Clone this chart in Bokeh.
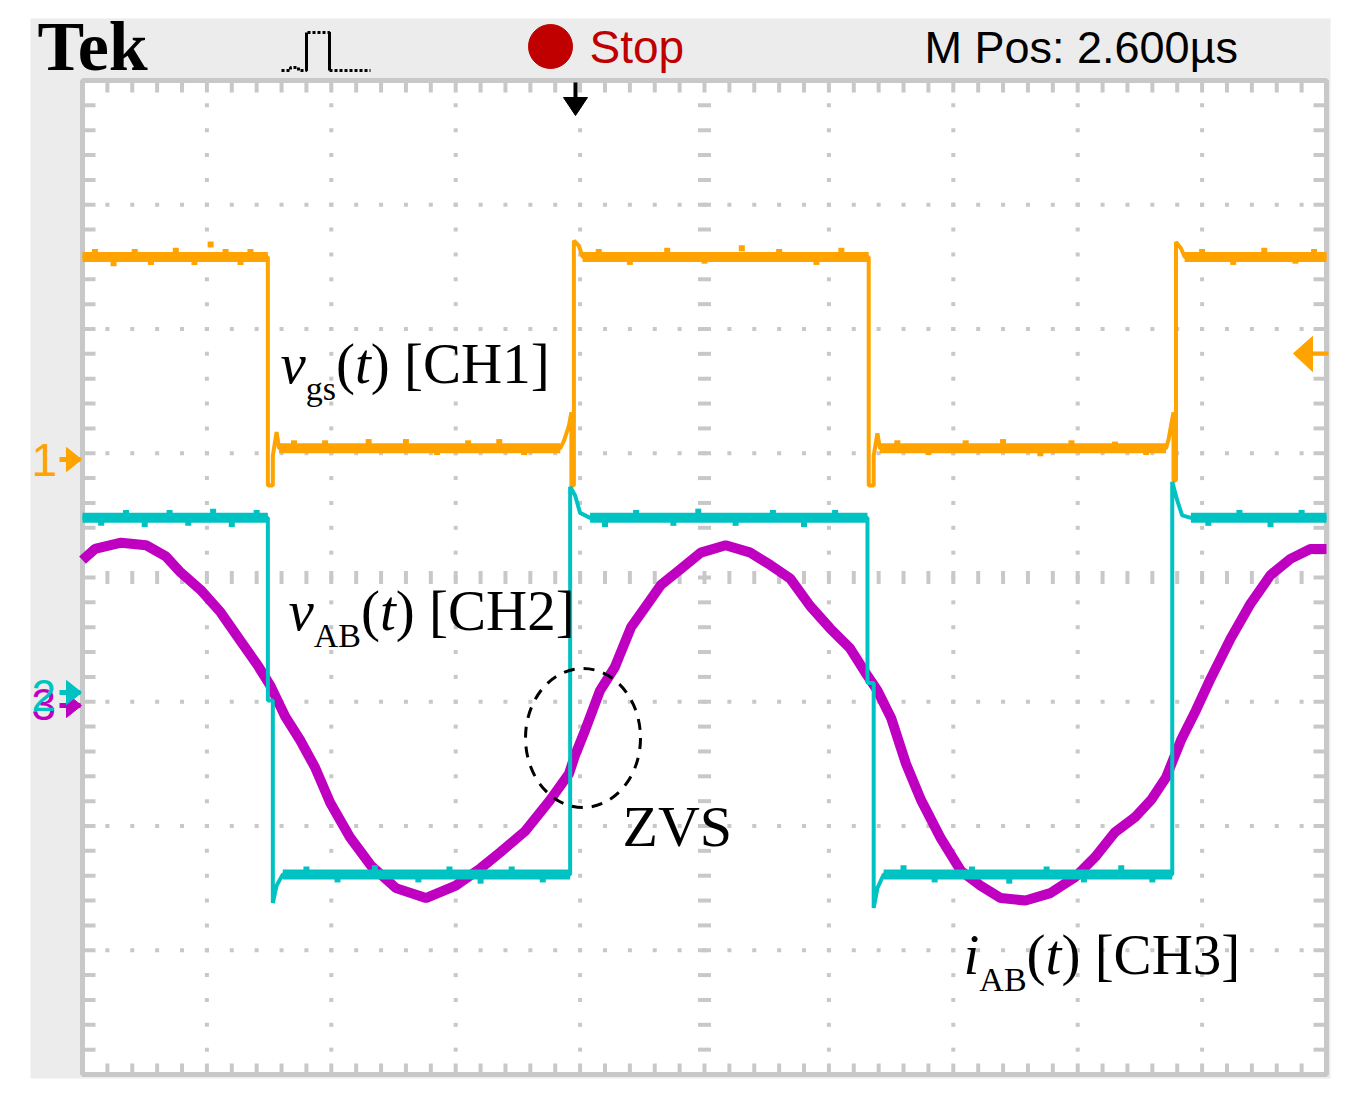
from bokeh.plotting import figure
from bokeh.models import Range1d
from bokeh.core.properties import value
from bokeh.embed import file_html
from bokeh.resources import INLINE

# ---------------- data (screen divisions: x 0..10, y -4..4, centre = 0) -------------
# CH1  v_gs(t)
CH1_X = [0.00, 1.49, 1.49, 1.53, 1.53, 1.56, 1.58, 3.84, 3.87, 3.91, 3.93, 3.93, 3.95, 3.95,
         3.99, 4.02, 6.32, 6.32, 6.36, 6.36, 6.39, 6.41, 8.71, 8.73, 8.75, 8.77, 8.77, 8.79,
         8.79, 8.83, 8.86, 10.00]
CH1_Y = [2.58, 2.58, 0.74, 0.74, 0.98, 1.17, 1.04, 1.04, 1.10, 1.22, 1.33, 0.74, 0.74, 2.71,
         2.67, 2.58, 2.58, 0.74, 0.74, 0.98, 1.16, 1.04, 1.04, 1.11, 1.22, 1.33, 0.78, 0.78,
         2.70, 2.65, 2.58, 2.58]
# noise glitches on the flat parts of CH1: position (div) and offset (div)
CH1_GLITCH_X = [0.10, 0.25, 0.42, 0.55, 0.75, 0.90, 1.03, 1.15, 1.27, 1.35,
                1.70, 1.95, 2.30, 2.60, 2.85, 3.10, 3.35, 3.55,
                4.15, 4.40, 4.70, 5.00, 5.30, 5.60, 5.90, 6.10,
                6.55, 6.80, 7.10, 7.40, 7.70, 7.95, 8.30, 8.55,
                9.00, 9.25, 9.50, 9.75, 9.90]
CH1_GLITCH_DY = [0.04, -0.05, 0.04, -0.04, 0.05, -0.04, 0.10, 0.04, -0.04, 0.04,
                 0.04, 0.04, 0.05, 0.05, -0.03, 0.04, 0.05, -0.03,
                 0.04, -0.04, 0.05, -0.03, 0.07, 0.04, -0.04, 0.05,
                 0.04, -0.03, 0.04, 0.05, -0.04, 0.04, 0.03, -0.03,
                 0.04, -0.04, 0.05, -0.03, 0.04]
# CH2  v_AB(t)
CH2_X = [0.00, 1.49, 1.49, 1.53, 1.53, 1.56, 1.61, 3.92, 3.92, 3.96, 4.00, 4.08, 6.31, 6.31,
         6.36, 6.36, 6.39, 6.44, 8.76, 8.76, 8.80, 8.84, 8.91, 10.00]
CH2_Y = [0.48, 0.48, -0.99, -0.99, -2.62, -2.48, -2.39, -2.39, 0.73, 0.66, 0.52, 0.48, 0.48,
         -0.85, -0.85, -2.66, -2.50, -2.39, -2.39, 0.77, 0.62, 0.50, 0.48, 0.48]
CH2_GLITCH_X = [0.15, 0.35, 0.50, 0.70, 0.85, 1.05, 1.20, 1.40,
                1.80, 2.05, 2.35, 2.70, 2.95, 3.20, 3.45, 3.70,
                4.20, 4.45, 4.75, 4.95, 5.25, 5.55, 5.80, 6.05,
                6.60, 6.85, 7.15, 7.45, 7.75, 8.05, 8.35, 8.60,
                9.05, 9.30, 9.55, 9.80]
CH2_GLITCH_DY = [-0.04, 0.04, -0.05, 0.04, -0.04, 0.05, -0.05, 0.04,
                 0.04, -0.04, 0.05, -0.04, 0.04, -0.05, 0.04, -0.04,
                 -0.05, 0.04, -0.04, 0.05, -0.04, 0.04, -0.05, 0.04,
                 0.05, -0.04, 0.04, -0.05, 0.04, -0.04, 0.05, -0.04,
                 -0.04, 0.04, -0.05, 0.04]
# CH3  i_AB(t)
CH3_X = [0.00, 0.10, 0.31, 0.51, 0.67, 0.79, 0.95, 1.11, 1.27, 1.41, 1.51, 1.63, 1.75, 1.87,
         1.99, 2.15, 2.32, 2.52, 2.76, 3.00, 3.20, 3.36, 3.56, 3.76, 3.91, 3.96, 4.04, 4.16,
         4.28, 4.41, 4.53, 4.65, 4.81, 4.97, 5.17, 5.37, 5.53, 5.69, 5.85, 6.01, 6.17, 6.29,
         6.39, 6.50, 6.62, 6.74, 6.90, 7.06, 7.22, 7.38, 7.58, 7.78, 7.98, 8.14, 8.30, 8.46,
         8.59, 8.71, 8.83, 8.95, 9.07, 9.23, 9.39, 9.55, 9.71, 9.87, 10.00]
CH3_Y = [0.14, 0.23, 0.28, 0.26, 0.17, 0.04, -0.10, -0.28, -0.51, -0.71, -0.87, -1.12, -1.31,
         -1.53, -1.81, -2.09, -2.32, -2.50, -2.58, -2.48, -2.34, -2.21, -2.04, -1.79, -1.58,
         -1.43, -1.23, -0.91, -0.72, -0.40, -0.23, -0.06, 0.07, 0.20, 0.26, 0.20, 0.10, -0.01,
         -0.23, -0.41, -0.57, -0.76, -0.91, -1.13, -1.50, -1.79, -2.10, -2.36, -2.48, -2.58,
         -2.60, -2.54, -2.41, -2.25, -2.05, -1.93, -1.79, -1.61, -1.31, -1.07, -0.81, -0.49,
         -0.21, 0.02, 0.15, 0.23, 0.23]

HEADER_LEFT = "Tek"
HEADER_STATE = "Stop"
HEADER_RIGHT = "M Pos: 2.600µs"
LABEL_CH1 = ["v", "gs", "(", "t", ") [CH1]"]
LABEL_CH2 = ["v", "AB", "(", "t", ") [CH2]"]
LABEL_CH3 = ["i", "AB", "(", "t", ") [CH3]"]
LABEL_ZVS = "ZVS"

# ---------------- colours / geometry -------------------------------------------------
C1, C2, C3 = "#FFA300", "#00C2C2", "#C000C0"
GRAT = "#C8C8C8"
BEZEL = "#ECECEC"
X0, Y0, DX, DY = 82.0, 577.0, 124.4, 124.25   # page px of division origin / px per div


def fx(px):
    return (px - X0) / DX


def fy(py):
    return (Y0 - py) / DY


W, H = 1333, 1084
p = figure(width=W, height=H, x_range=Range1d(fx(0), fx(W)),
           y_range=Range1d(fy(H), fy(0)), x_axis_type=None, y_axis_type=None,
           toolbar_location=None, output_backend="svg", min_border=0,
           outline_line_color=None, background_fill_color="white",
           border_fill_color="white")


def txt(px, base, s, size, font, color="black", style="normal"):
    # place text so that its alphabetic baseline lands on page row `base`
    p.text(x=[fx(px)], y=[fy(base - 0.37 * size)], text=[s], text_font=value(font),
           text_font_size=f"{size}px", text_font_style=style, text_color=color,
           text_baseline="alphabetic", text_align="left")


# bezel and screen
p.quad(left=[fx(30)], right=[fx(1330)], top=[fy(18)], bottom=[fy(1078)],
       fill_color=BEZEL, line_color=None)
p.quad(left=[0], right=[10], top=[4], bottom=[-4], fill_color="white", line_color=None)
p.rect(x=[5], y=[0], width=[10], height=[8], fill_color=None, line_color=GRAT, line_width=5)

# border ticks
ys = [-4 + 0.2 * k for k in range(1, 40)]
xs = [0.2 * k for k in range(1, 50)]
p.segment(x0=[0] * len(ys), y0=ys, x1=[fx(95)] * len(ys), y1=ys, line_color=GRAT, line_width=4)
p.segment(x0=[10] * len(ys), y0=ys, x1=[fx(1313)] * len(ys), y1=ys, line_color=GRAT, line_width=4)
p.segment(x0=xs, y0=[4] * len(xs), x1=xs, y1=[fy(92)] * len(xs), line_color=GRAT, line_width=4)
p.segment(x0=xs, y0=[-4] * len(xs), x1=xs, y1=[fy(1063)] * len(xs), line_color=GRAT, line_width=4)

# dotted graticule
dx, dy = [], []
for gx in [1, 2, 3, 4, 6, 7, 8, 9]:
    for yy in ys:
        dx.append(gx); dy.append(yy)
for gy in [-3, -2, -1, 1, 2, 3]:
    for xx in xs:
        dx.append(xx); dy.append(gy)
p.rect(x=dx, y=dy, width=4, height=4, width_units="screen", height_units="screen",
       fill_color=GRAT, line_color=None)
# centre cross
p.rect(x=[5] * len(ys), y=ys, width=13, height=4, width_units="screen", height_units="screen",
       fill_color=GRAT, line_color=None)
p.rect(x=xs, y=[0] * len(xs), width=4, height=13, width_units="screen", height_units="screen",
       fill_color=GRAT, line_color=None)


def level_segments(xv, yv, min_len=0.3):
    a, b, c = [], [], []
    for i in range(len(xv) - 1):
        if yv[i] == yv[i + 1] and xv[i + 1] - xv[i] > min_len:
            a.append(xv[i]); b.append(xv[i + 1]); c.append(yv[i])
    return a, b, c


def glitches(xv, yv, gx, gdy, col):
    a, b, c = level_segments(xv, yv)
    px, py = [], []
    for x, d in zip(gx, gdy):
        for s, e, lv in zip(a, b, c):
            if s <= x <= e:
                px.append(x); py.append(lv + d)
    p.rect(x=px, y=py, width=6, height=6, width_units="screen", height_units="screen",
           fill_color=col, line_color=None)


# traces
p.line(CH3_X, CH3_Y, line_color=C3, line_width=10)
p.line(CH1_X, CH1_Y, line_color=C1, line_width=4)
a, b, c = level_segments(CH1_X, CH1_Y)
p.segment(x0=a, y0=c, x1=b, y1=c, line_color=C1, line_width=10)
glitches(CH1_X, CH1_Y, CH1_GLITCH_X, CH1_GLITCH_DY, C1)
p.line(CH2_X, CH2_Y, line_color=C2, line_width=4)
a, b, c = level_segments(CH2_X, CH2_Y)
p.segment(x0=a, y0=c, x1=b, y1=c, line_color=C2, line_width=10)
glitches(CH2_X, CH2_Y, CH2_GLITCH_X, CH2_GLITCH_DY, C2)

# trigger markers
p.segment(x0=[fx(575)], y0=[fy(82)], x1=[fx(575)], y1=[fy(100)], line_color="black", line_width=4)
p.patch([fx(563), fx(587), fx(575)], [fy(97), fy(97), fy(115)], color="black")
p.patch([fx(1293), fx(1312), fx(1312)], [fy(353), fy(336), fy(371)], color=C1)
p.segment(x0=[fx(1305)], y0=[fy(353)], x1=[fx(1328)], y1=[fy(353)], line_color=C1, line_width=4)


# channel ground markers on the left
def marker(cy, col):
    p.patch([fx(66), fx(66), fx(81)], [fy(cy - 12), fy(cy + 12), fy(cy)], color=col)
    p.segment(x0=[fx(59)], y0=[fy(cy)], x1=[fx(80)], y1=[fy(cy)], line_color=col, line_width=5)


marker(459, C1)
txt(31, 477, "1", 46, "Liberation Sans", C1)
marker(705, C3)
marker(692, C2)
txt(31, 720, "3", 44, "Liberation Sans", C3)
txt(31, 711, "2", 44, "Liberation Sans", C2)

# header
txt(37, 72, HEADER_LEFT, 70, "Liberation Serif", "black", "bold")
icon_x = [fx(v) for v in [281, 290, 290, 298, 298, 306, 306, 329, 329, 370]]
icon_y = [fy(v) for v in [70, 70, 67, 67, 70, 70, 32, 32, 70, 70]]
p.line(icon_x, icon_y, line_color="black", line_width=3, line_dash="3 2")
p.segment(x0=[fx(306), fx(329)], y0=[fy(70), fy(70)], x1=[fx(306), fx(329)],
          y1=[fy(32), fy(32)], line_color="black", line_width=3)
p.scatter(x=[fx(550)], y=[fy(46)], size=44, marker="circle", color="#C00000")
txt(589, 64, HEADER_STATE, 46, "Liberation Sans", "#C00000")
txt(924, 64, HEADER_RIGHT, 45, "Liberation Sans", "black")


# annotations
def label(parts, x, base, size=57, sub=34):
    v, s, lp, t, rest = parts
    F = "Liberation Serif"
    txt(x, base, v, size, F, style="italic")
    vw = (0.444 if v == "v" else 0.278) * size
    sw = (1.389 if s == "AB" else 0.889) * sub
    txt(x + vw, base + 17, s, sub, F)
    x2 = x + vw + sw
    txt(x2, base, lp, size, F)
    x3 = x2 + 0.333 * size
    txt(x3, base, t, size, F, style="italic")
    txt(x3 + 0.278 * size, base, rest, size, F)


label(LABEL_CH1, 280, 384)
label(LABEL_CH2, 288, 631)
label(LABEL_CH3, 963, 975)
txt(622, 847, LABEL_ZVS, 58, "Liberation Serif")
p.ellipse(x=[fx(582.5)], y=[fy(737.5)], width=[115 / DX], height=[139 / DY],
          fill_color=None, line_color="black", line_width=3, line_dash="11 9")

open("out.html", "w").write(file_html(p, INLINE))
